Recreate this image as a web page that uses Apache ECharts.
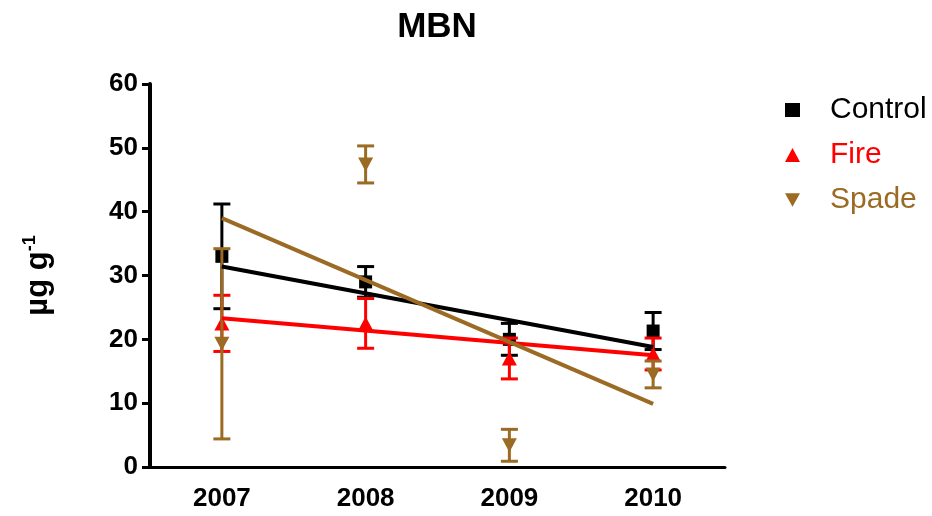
<!DOCTYPE html>
<html>
<head>
<meta charset="utf-8">
<script src="https://cdn.jsdelivr.net/npm/echarts@6/dist/echarts.min.js"></script>
<style>html,body{margin:0;padding:0;background:#fff}#c{width:932px;height:516px}</style>
</head>
<body>
<div id="c"></div>
<script>
var years = ['2007', '2008', '2009', '2010'];
var yTicks = [0, 10, 20, 30, 40, 50, 60];

var controlMean = [33.0, 29.0, 20.0, 21.3];
var controlErr  = [8.2, 2.4, 2.5, 2.9];
var fireMean    = [22.5, 22.5, 17.0, 17.7];
var fireErr     = [4.4, 3.9, 3.2, 2.5];
var spadeMean   = [19.3, 47.4, 3.4, 14.5];
var spadeErr    = [14.9, 2.9, 2.5, 2.1];

// linear regression lines (2007 -> 2010)
var controlFit = [31.4, 18.8];
var fireFit    = [23.3, 17.5];
var spadeFit   = [39.0, 9.9];

var C_BLACK = '#000000', C_RED = '#ff0000', C_BROWN = '#9b6a23';
var FONT = '"Liberation Sans", Arial, sans-serif';

function errData(mean, err) {
  return years.map(function (y, i) { return [y, mean[i] - err[i], mean[i] + err[i]]; });
}
function ptData(mean) {
  return years.map(function (y, i) { return [y, mean[i]]; });
}
function errSeries(name, mean, err, color, z) {
  return {
    type: 'custom', name: name + ' err', z: z, silent: true,
    data: errData(mean, err),
    renderItem: function (params, api) {
      var lo = api.coord([api.value(0), api.value(1)]);
      var hi = api.coord([api.value(0), api.value(2)]);
      var hw = 8.5;
      var st = { stroke: color, lineWidth: 3 };
      return { type: 'group', children: [
        { type: 'line', shape: { x1: lo[0], y1: lo[1], x2: hi[0], y2: hi[1] }, style: st },
        { type: 'line', shape: { x1: lo[0] - hw, y1: lo[1], x2: lo[0] + hw, y2: lo[1] }, style: st },
        { type: 'line', shape: { x1: hi[0] - hw, y1: hi[1], x2: hi[0] + hw, y2: hi[1] }, style: st }
      ]};
    }
  };
}
function ptSeries(name, mean, color, symbol, size, rot, z) {
  return {
    type: 'scatter', name: name, data: ptData(mean), symbol: symbol, symbolSize: size,
    symbolRotate: rot, itemStyle: { color: color, opacity: 1 }, z: z
  };
}
function fitSeries(name, fit, color, z) {
  return {
    type: 'line', name: name + ' fit', data: [[years[0], fit[0]], [years[3], fit[1]]],
    symbol: 'none', lineStyle: { color: color, width: 4 }, z: z, silent: true
  };
}

var chart = echarts.init(document.getElementById('c'));
chart.setOption({
  animation: false,
  backgroundColor: '#fff',
  title: {
    text: 'MBN', left: 437, top: 10, textAlign: 'center', padding: 0,
    textStyle: { fontFamily: FONT, fontWeight: 'bold', fontSize: 35, color: '#000' }
  },
  legend: {
    orient: 'vertical', left: 785, top: 95, itemWidth: 15, itemHeight: 14, itemGap: 15,
    padding: 0, selectedMode: false,
    textStyle: { fontFamily: FONT, fontSize: 30, lineHeight: 30, padding: [0, 0, 0, 25] },
    data: [
      { name: 'Control', icon: 'rect', itemStyle: { color: C_BLACK }, textStyle: { color: C_BLACK } },
      { name: 'Fire', icon: 'triangle', itemStyle: { color: C_RED }, textStyle: { color: C_RED } },
      { name: 'Spade', icon: 'path://M0,0 L10,0 L5,9 Z', itemStyle: { color: C_BROWN }, textStyle: { color: C_BROWN } }
    ]
  },
  grid: { left: 150, right: 207, top: 84, bottom: 49, containLabel: false },
  xAxis: {
    type: 'category', data: years, boundaryGap: true,
    axisLine: { lineStyle: { color: '#000', width: 3 } },
    axisTick: { alignWithLabel: true, length: 8, lineStyle: { color: '#000', width: 3 } },
    axisLabel: { fontFamily: FONT, fontWeight: 'bold', fontSize: 26, color: '#000', margin: 19 },
    splitLine: { show: false }
  },
  yAxis: {
    type: 'value', min: yTicks[0], max: yTicks[yTicks.length - 1], interval: 10,
    name: '{a|µg g}{b|-1}', nameLocation: 'middle', nameGap: 95, nameRotate: 90,
    nameTextStyle: {
      rich: {
        a: { fontFamily: FONT, fontWeight: 'bold', fontSize: 31, color: '#000' },
        b: { fontFamily: FONT, fontWeight: 'bold', fontSize: 18, color: '#000', padding: [0, 0, 16, 0] }
      }
    },
    axisLine: { show: true, lineStyle: { color: '#000', width: 4 } },
    axisTick: { show: true, length: 8, lineStyle: { color: '#000', width: 3 } },
    axisLabel: { fontFamily: FONT, fontWeight: 'bold', fontSize: 26, color: '#000', margin: 12 },
    splitLine: { show: false }
  },
  series: [
    errSeries('Control', controlMean, controlErr, C_BLACK, 2),
    ptSeries('Control', controlMean, C_BLACK, 'rect', 13, 0, 3),
    errSeries('Fire', fireMean, fireErr, C_RED, 4),
    ptSeries('Fire', fireMean, C_RED, 'triangle', [15, 14], 0, 5),
    errSeries('Spade', spadeMean, spadeErr, C_BROWN, 6),
    ptSeries('Spade', spadeMean, C_BROWN, 'triangle', [15, 14], 180, 7),
    fitSeries('Control', controlFit, C_BLACK, 8),
    fitSeries('Fire', fireFit, C_RED, 9),
    fitSeries('Spade', spadeFit, C_BROWN, 10)
  ]
});
</script>
</body>
</html>
